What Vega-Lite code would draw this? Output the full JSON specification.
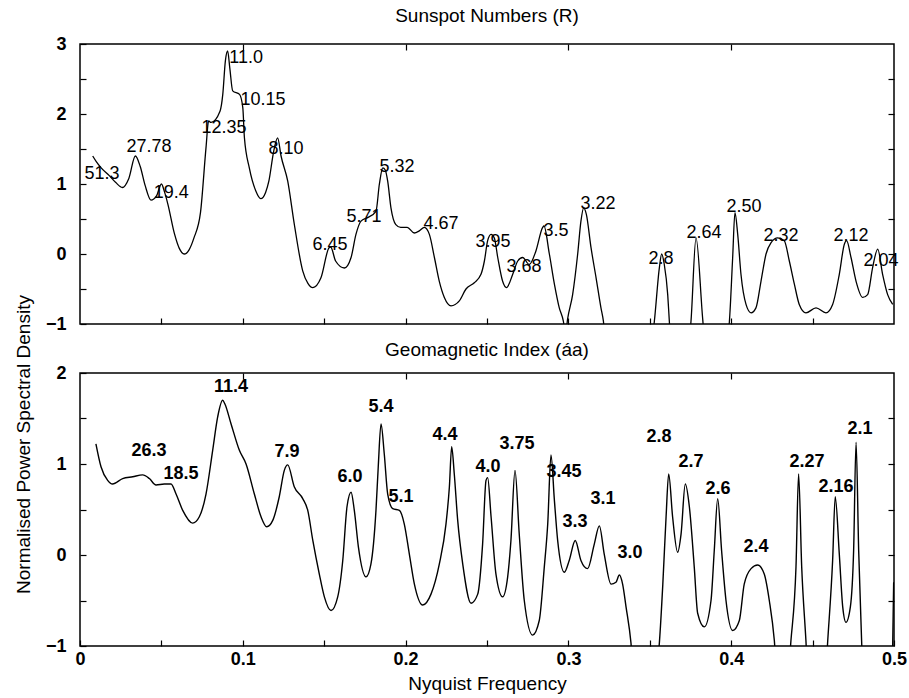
{
  "$schema": "https://vega.github.io/schema/vega-lite/v6.json",
  "padding": {"left": 13, "top": 6, "right": 5, "bottom": 5},
  "spacing": 49,
  "bounds": "flush",
  "config": {
    "view": {"stroke": "black", "strokeWidth": 1.5},
    "font": "Liberation Sans",
    "axis": {"domain": false, "grid": false, "tickColor": "black", "tickSize": -6, "tickWidth": 1.2,
             "labelFont": "Liberation Sans", "labelFontSize": 18, "labelFontWeight": "bold", "labelColor": "black",
             "labelFlush": false, "labelOverlap": false,
             "titleFont": "Liberation Sans", "titleFontSize": 19, "titleFontWeight": "normal", "titleColor": "black"},
    "title": {"font": "Liberation Sans", "fontSize": 19, "fontWeight": "normal", "color": "black", "anchor": "middle"}
  },
  "datasets": {
    "sun": [
      {"f":0.0078,"p":1.40},{"f":0.010,"p":1.32},{"f":0.013,"p":1.23},{"f":0.018,"p":1.12},{"f":0.022,"p":1.02},{"f":0.026,"p":0.95},{"f":0.030,"p":1.08},{"f":0.034,"p":1.40},{"f":0.037,"p":1.25},{"f":0.040,"p":0.98},{"f":0.0436,"p":0.77},{"f":0.047,"p":0.83},{"f":0.050,"p":1.00},{"f":0.052,"p":0.88},{"f":0.054,"p":0.71},{"f":0.058,"p":0.29},{"f":0.061,"p":0.08},{"f":0.064,"p":0.00},{"f":0.067,"p":0.06},{"f":0.070,"p":0.23},{"f":0.074,"p":0.59},{"f":0.0774,"p":1.52},{"f":0.079,"p":1.90},{"f":0.0805,"p":1.88},{"f":0.086,"p":2.04},{"f":0.0877,"p":2.28},{"f":0.0893,"p":2.76},{"f":0.0907,"p":2.90},{"f":0.092,"p":2.66},{"f":0.0938,"p":2.33},{"f":0.098,"p":2.28},{"f":0.100,"p":2.09},{"f":0.101,"p":1.66},{"f":0.104,"p":1.23},{"f":0.108,"p":0.90},{"f":0.111,"p":0.79},{"f":0.114,"p":0.88},{"f":0.116,"p":1.04},{"f":0.119,"p":1.47},{"f":0.1214,"p":1.66},{"f":0.1235,"p":1.40},{"f":0.1276,"p":1.04},{"f":0.1316,"p":0.43},{"f":0.1368,"p":-0.24},{"f":0.140,"p":-0.42},{"f":0.143,"p":-0.48},{"f":0.148,"p":-0.34},{"f":0.153,"p":0.09},{"f":0.154,"p":0.10},{"f":0.157,"p":-0.10},{"f":0.1624,"p":-0.20},{"f":0.1665,"p":-0.05},{"f":0.1695,"p":0.28},{"f":0.1726,"p":0.47},{"f":0.1767,"p":0.52},{"f":0.1818,"p":0.61},{"f":0.1839,"p":1.00},{"f":0.186,"p":1.23},{"f":0.1875,"p":1.20},{"f":0.189,"p":1.04},{"f":0.191,"p":0.66},{"f":0.194,"p":0.42},{"f":0.197,"p":0.38},{"f":0.201,"p":0.38},{"f":0.2053,"p":0.30},{"f":0.2084,"p":0.33},{"f":0.2115,"p":0.38},{"f":0.2146,"p":0.28},{"f":0.2177,"p":-0.05},{"f":0.2207,"p":-0.39},{"f":0.2238,"p":-0.62},{"f":0.2279,"p":-0.74},{"f":0.233,"p":-0.67},{"f":0.2371,"p":-0.50},{"f":0.2422,"p":-0.41},{"f":0.2463,"p":-0.29},{"f":0.2484,"p":-0.10},{"f":0.2504,"p":0.19},{"f":0.2525,"p":0.28},{"f":0.2545,"p":0.23},{"f":0.2566,"p":-0.05},{"f":0.2596,"p":-0.39},{"f":0.262,"p":-0.48},{"f":0.2658,"p":-0.29},{"f":0.2689,"p":-0.10},{"f":0.2719,"p":-0.05},{"f":0.276,"p":-0.15},{"f":0.280,"p":0.04},{"f":0.2842,"p":0.38},{"f":0.285,"p":0.40},{"f":0.2883,"p":0.00},{"f":0.2914,"p":-0.43},{"f":0.2944,"p":-0.77},{"f":0.2969,"p":-0.96},{"f":0.2982,"p":-1.15},{"f":0.2995,"p":-0.93},{"f":0.3026,"p":-0.58},{"f":0.3057,"p":0.00},{"f":0.3077,"p":0.47},{"f":0.3094,"p":0.66},{"f":0.311,"p":0.57},{"f":0.3139,"p":0.09},{"f":0.317,"p":-0.34},{"f":0.320,"p":-0.77},{"f":0.3215,"p":-0.96},{"f":0.323,"p":-1.3},{"f":0.351,"p":-1.3},{"f":0.3528,"p":-0.96},{"f":0.3559,"p":-0.19},{"f":0.3573,"p":0.00},{"f":0.3589,"p":-0.15},{"f":0.361,"p":-0.58},{"f":0.362,"p":-0.96},{"f":0.363,"p":-1.3},{"f":0.374,"p":-1.3},{"f":0.3753,"p":-0.96},{"f":0.3784,"p":0.23},{"f":0.3825,"p":-0.93},{"f":0.384,"p":-1.3},{"f":0.397,"p":-1.3},{"f":0.3989,"p":-0.96},{"f":0.4009,"p":-0.05},{"f":0.4023,"p":0.59},{"f":0.404,"p":0.28},{"f":0.406,"p":-0.29},{"f":0.4091,"p":-0.72},{"f":0.4122,"p":-0.84},{"f":0.4152,"p":-0.77},{"f":0.4183,"p":-0.39},{"f":0.4214,"p":0.00},{"f":0.4244,"p":0.16},{"f":0.4286,"p":0.23},{"f":0.4326,"p":0.19},{"f":0.4357,"p":-0.10},{"f":0.4388,"p":-0.43},{"f":0.4418,"p":-0.72},{"f":0.4459,"p":-0.84},{"f":0.4521,"p":-0.77},{"f":0.4582,"p":-0.84},{"f":0.4623,"p":-0.72},{"f":0.4664,"p":-0.29},{"f":0.4695,"p":0.14},{"f":0.4709,"p":0.19},{"f":0.4736,"p":-0.05},{"f":0.4767,"p":-0.39},{"f":0.4808,"p":-0.62},{"f":0.4838,"p":-0.58},{"f":0.4869,"p":-0.19},{"f":0.490,"p":0.07},{"f":0.493,"p":-0.29},{"f":0.4961,"p":-0.58},{"f":0.4992,"p":-0.72}
    ],
    "geo": [
      {"f":0.0098,"p":1.22},{"f":0.0129,"p":0.97},{"f":0.017,"p":0.82},{"f":0.020,"p":0.78},{"f":0.0262,"p":0.84},{"f":0.0324,"p":0.86},{"f":0.0385,"p":0.88},{"f":0.0426,"p":0.84},{"f":0.0467,"p":0.77},{"f":0.0518,"p":0.78},{"f":0.0559,"p":0.78},{"f":0.059,"p":0.67},{"f":0.0631,"p":0.49},{"f":0.0692,"p":0.35},{"f":0.0733,"p":0.42},{"f":0.0774,"p":0.67},{"f":0.0815,"p":1.15},{"f":0.0846,"p":1.52},{"f":0.0876,"p":1.70},{"f":0.089,"p":1.66},{"f":0.0928,"p":1.44},{"f":0.0979,"p":1.15},{"f":0.102,"p":1.00},{"f":0.1071,"p":0.67},{"f":0.1112,"p":0.42},{"f":0.1147,"p":0.31},{"f":0.1184,"p":0.38},{"f":0.1224,"p":0.64},{"f":0.1255,"p":0.93},{"f":0.1276,"p":0.99},{"f":0.1316,"p":0.75},{"f":0.1368,"p":0.62},{"f":0.1399,"p":0.49},{"f":0.143,"p":0.16},{"f":0.147,"p":-0.21},{"f":0.1501,"p":-0.46},{"f":0.1542,"p":-0.61},{"f":0.1583,"p":-0.46},{"f":0.1614,"p":-0.06},{"f":0.164,"p":0.53},{"f":0.1665,"p":0.69},{"f":0.1685,"p":0.49},{"f":0.171,"p":0.09},{"f":0.1757,"p":-0.24},{"f":0.1787,"p":-0.10},{"f":0.1818,"p":0.49},{"f":0.1832,"p":0.97},{"f":0.1849,"p":1.44},{"f":0.1869,"p":1.11},{"f":0.189,"p":0.67},{"f":0.1921,"p":0.51},{"f":0.1962,"p":0.49},{"f":0.1992,"p":0.34},{"f":0.2023,"p":0.01},{"f":0.2054,"p":-0.32},{"f":0.2105,"p":-0.55},{"f":0.2156,"p":-0.43},{"f":0.2207,"p":-0.10},{"f":0.2248,"p":0.34},{"f":0.2269,"p":0.75},{"f":0.2283,"p":1.19},{"f":0.2299,"p":0.89},{"f":0.232,"p":0.38},{"f":0.2351,"p":-0.10},{"f":0.2402,"p":-0.53},{"f":0.2443,"p":-0.43},{"f":0.2473,"p":0.12},{"f":0.2494,"p":0.82},{"f":0.2504,"p":0.85},{"f":0.2525,"p":0.42},{"f":0.2555,"p":-0.21},{"f":0.2596,"p":-0.46},{"f":0.2627,"p":-0.24},{"f":0.2647,"p":0.16},{"f":0.2672,"p":0.93},{"f":0.2698,"p":0.23},{"f":0.2729,"p":-0.50},{"f":0.278,"p":-0.88},{"f":0.2821,"p":-0.72},{"f":0.2852,"p":-0.13},{"f":0.2873,"p":0.34},{"f":0.2893,"p":1.10},{"f":0.2914,"p":0.60},{"f":0.2934,"p":0.16},{"f":0.2975,"p":-0.19},{"f":0.3005,"p":-0.06},{"f":0.3042,"p":0.16},{"f":0.3077,"p":-0.06},{"f":0.3118,"p":-0.15},{"f":0.3159,"p":0.12},{"f":0.319,"p":0.32},{"f":0.322,"p":0.01},{"f":0.3262,"p":-0.32},{"f":0.3292,"p":-0.30},{"f":0.3313,"p":-0.22},{"f":0.3333,"p":-0.32},{"f":0.3354,"p":-0.57},{"f":0.3384,"p":-0.96},{"f":0.340,"p":-1.3},{"f":0.354,"p":-1.3},{"f":0.3559,"p":-0.96},{"f":0.358,"p":-0.32},{"f":0.360,"p":0.42},{"f":0.3616,"p":0.89},{"f":0.364,"p":0.42},{"f":0.3671,"p":0.03},{"f":0.3692,"p":0.23},{"f":0.3718,"p":0.78},{"f":0.3743,"p":0.53},{"f":0.3773,"p":-0.13},{"f":0.3794,"p":-0.64},{"f":0.3835,"p":-0.79},{"f":0.3876,"p":-0.50},{"f":0.3896,"p":0.05},{"f":0.3917,"p":0.62},{"f":0.3941,"p":0.05},{"f":0.3968,"p":-0.50},{"f":0.4009,"p":-0.83},{"f":0.405,"p":-0.72},{"f":0.408,"p":-0.32},{"f":0.4122,"p":-0.15},{"f":0.4163,"p":-0.11},{"f":0.4203,"p":-0.21},{"f":0.4234,"p":-0.50},{"f":0.4265,"p":-0.94},{"f":0.428,"p":-1.3},{"f":0.435,"p":-1.3},{"f":0.4367,"p":-0.94},{"f":0.4398,"p":-0.13},{"f":0.4414,"p":0.89},{"f":0.4433,"p":-0.13},{"f":0.4459,"p":-0.94},{"f":0.447,"p":-1.3},{"f":0.458,"p":-1.3},{"f":0.4593,"p":-0.94},{"f":0.4623,"p":-0.06},{"f":0.4639,"p":0.64},{"f":0.4664,"p":0.01},{"f":0.4685,"p":-0.57},{"f":0.4705,"p":-0.74},{"f":0.4732,"p":-0.57},{"f":0.4752,"p":0.05},{"f":0.4767,"p":1.24},{"f":0.4783,"p":0.05},{"f":0.4801,"p":-0.94},{"f":0.481,"p":-1.3},{"f":0.4985,"p":-1.3},{"f":0.4998,"p":-0.3}
    ],
    "sunlab": [
      {"f":0.0135,"p":1.14,"t":"51.3"},{"f":0.0424,"p":1.53,"t":"27.78"},{"f":0.056,"p":0.87,"t":"19.4"},{"f":0.0885,"p":1.80,"t":"12.35"},{"f":0.102,"p":2.80,"t":"11.0"},{"f":0.1124,"p":2.20,"t":"10.15"},{"f":0.1265,"p":1.50,"t":"8.10"},{"f":0.1536,"p":0.13,"t":"6.45"},{"f":0.1744,"p":0.53,"t":"5.71"},{"f":0.1947,"p":1.24,"t":"5.32"},{"f":0.2217,"p":0.43,"t":"4.67"},{"f":0.2537,"p":0.17,"t":"3.95"},{"f":0.2727,"p":-0.19,"t":"3.68"},{"f":0.2924,"p":0.33,"t":"3.5"},{"f":0.3182,"p":0.71,"t":"3.22"},{"f":0.3569,"p":-0.07,"t":"2.8"},{"f":0.3833,"p":0.30,"t":"2.64"},{"f":0.4079,"p":0.67,"t":"2.50"},{"f":0.4306,"p":0.26,"t":"2.32"},{"f":0.4736,"p":0.26,"t":"2.12"},{"f":0.492,"p":-0.10,"t":"2.04"}
    ],
    "geolab": [
      {"f":0.0424,"p":1.14,"t":"26.3"},{"f":0.062,"p":0.89,"t":"18.5"},{"f":0.0928,"p":1.85,"t":"11.4"},{"f":0.1271,"p":1.13,"t":"7.9"},{"f":0.1658,"p":0.86,"t":"6.0"},{"f":0.1849,"p":1.63,"t":"5.4"},{"f":0.1972,"p":0.64,"t":"5.1"},{"f":0.2242,"p":1.32,"t":"4.4"},{"f":0.2506,"p":0.97,"t":"4.0"},{"f":0.2684,"p":1.22,"t":"3.75"},{"f":0.2973,"p":0.91,"t":"3.45"},{"f":0.3040,"p":0.36,"t":"3.3"},{"f":0.3213,"p":0.62,"t":"3.1"},{"f":0.3378,"p":0.02,"t":"3.0"},{"f":0.3557,"p":1.30,"t":"2.8"},{"f":0.3753,"p":1.02,"t":"2.7"},{"f":0.3919,"p":0.73,"t":"2.6"},{"f":0.4152,"p":0.09,"t":"2.4"},{"f":0.4466,"p":1.02,"t":"2.27"},{"f":0.4644,"p":0.75,"t":"2.16"},{"f":0.4791,"p":1.38,"t":"2.1"}
    ]
  },
  "vconcat": [
    {
      "title": {"text": "Sunspot Numbers (R)", "offset": 9},
      "width": 814,
      "height": 280,
      "resolve": {"axis": {"x": "independent", "y": "independent"}},
      "layer": [
        {
          "data": {"name": "sun"},
          "mark": {"type": "line", "color": "black", "strokeWidth": 1.3, "clip": true, "interpolate": "monotone"},
          "encoding": {
            "x": {"field": "f", "type": "quantitative", "scale": {"domain": [0, 0.5], "nice": false, "zero": false},
                  "axis": {"title": null, "labels": false, "values": [0.05,0.1,0.15,0.2,0.25,0.3,0.35,0.4,0.45]}},
            "y": {"field": "p", "type": "quantitative", "scale": {"domain": [-1, 3], "nice": false, "zero": false},
                  "axis": {"title": "Normalised Power Spectral Density", "titleX": -47, "titleY": 400,
                           "values": [-1,-0.5,0,0.5,1,1.5,2,2.5,3], "labelPadding": 20,
                           "labelExpr": "datum.value % 1 === 0 ? format(datum.value, 'd') : ''"}}
          }
        },
        {
          "data": {"name": "sunlab"},
          "mark": {"type": "text", "font": "Liberation Sans", "fontSize": 18, "color": "black", "align": "center", "baseline": "middle"},
          "encoding": {
            "x": {"field": "f", "type": "quantitative", "axis": {"orient": "top", "title": null, "labels": false, "values": [0.1,0.2,0.3,0.4]}},
            "y": {"field": "p", "type": "quantitative", "axis": {"orient": "right", "title": null, "labels": false, "values": [-0.5,0,0.5,1,1.5,2,2.5]}},
            "text": {"field": "t"}
          }
        }
      ]
    },
    {
      "title": {"text": "Geomagnetic Index (áa)", "offset": 4},
      "width": 814,
      "height": 273,
      "resolve": {"axis": {"x": "independent", "y": "independent"}},
      "layer": [
        {
          "data": {"name": "geo"},
          "mark": {"type": "line", "color": "black", "strokeWidth": 1.4, "clip": true, "interpolate": "monotone"},
          "encoding": {
            "x": {"field": "f", "type": "quantitative", "scale": {"domain": [0, 0.5], "nice": false, "zero": false},
                  "axis": {"title": "Nyquist Frequency", "titlePadding": 6, "labelPadding": 10,
                           "values": [0,0.05,0.1,0.15,0.2,0.25,0.3,0.35,0.4,0.45,0.5],
                           "labelExpr": "round(datum.value*100) % 10 === 0 ? format(datum.value, '~g') : ''"}},
            "y": {"field": "p", "type": "quantitative", "scale": {"domain": [-1, 2], "nice": false, "zero": false},
                  "axis": {"title": null,
                           "values": [-1,-0.5,0,0.5,1,1.5,2], "labelPadding": 20,
                           "labelExpr": "datum.value % 1 === 0 ? format(datum.value, 'd') : ''"}}
          }
        },
        {
          "data": {"name": "geolab"},
          "mark": {"type": "text", "font": "Liberation Sans", "fontSize": 18, "fontWeight": "bold", "color": "black", "align": "center", "baseline": "middle"},
          "encoding": {
            "x": {"field": "f", "type": "quantitative", "axis": {"orient": "top", "title": null, "labels": false, "values": [0.1,0.2,0.3,0.4]}},
            "y": {"field": "p", "type": "quantitative", "axis": {"orient": "right", "title": null, "labels": false, "values": [-0.5,0,0.5,1,1.5]}},
            "text": {"field": "t"}
          }
        }
      ]
    }
  ]
}
